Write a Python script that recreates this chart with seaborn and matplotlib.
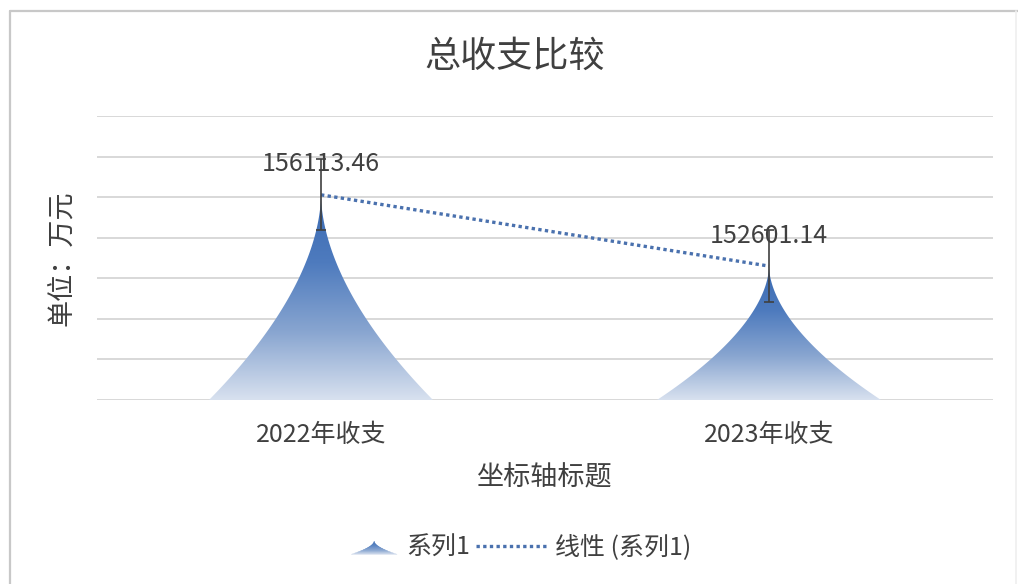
import numpy as np
import matplotlib
matplotlib.use("Agg")
import matplotlib.pyplot as plt
import seaborn as sns
from matplotlib.colors import LinearSegmentedColormap
from matplotlib.patches import Polygon, Patch
from matplotlib.lines import Line2D
from matplotlib.legend_handler import HandlerBase

# ---- data ----
categories = ["2022年收支", "2023年收支"]
values = [156113.46, 152601.14]
value_labels = ["156113.46", "152601.14"]
y_min, y_max, y_step = 146000, 160000, 2000
title = "总收支比较"
x_title = "坐标轴标题"
y_title = "单位：万元"
series_name = "系列1"
trend_name = "线性 (系列1)"

sns.set_theme(style="white")
plt.rcParams["font.family"] = ["Noto Sans CJK SC", "DejaVu Sans"]

TEXT = "#404040"
GRID = "#D6D6D6"
TREND = "#4A71AE"
# gradient from the base (light) to the tip (dark)
spike_cmap = LinearSegmentedColormap.from_list(
    "spike", ["#D8E1EF", "#88A5D0", "#4E7BBE", "#3A6AB2"])
CURVE = 1.8  # concavity of the spike sides


def spike_outline(c, hw, base, top, n=80):
    t = np.linspace(0, 1, n)
    ys = base + t * (top - base)
    off = hw * (1 - t) ** CURVE
    left = np.column_stack([c - off, ys])
    right = np.column_stack([c + off, ys])[::-1]
    return np.concatenate([left, right])


W, H = 1018, 584
fig = plt.figure(figsize=(W / 100, H / 100), dpi=100)
ax = fig.add_axes([97 / W, 1 - 400 / H, (993 - 97) / W, (400 - 116) / H])

sns.barplot(x=categories, y=values, width=0.5, errorbar=None,
            color="#4472C4", ax=ax)
ax.set_ylim(y_min, y_max)
ax.set_yticks(np.arange(y_min, y_max + 1, y_step))
xlim = ax.get_xlim()

# replace each bar by a gradient-filled spike of the same position/width/height
grad = np.linspace(0, 1, 256).reshape(-1, 1)
centers = []
for bar, v in zip(list(ax.patches), values):
    bar.set_visible(False)
    c = bar.get_x() + bar.get_width() / 2
    hw = bar.get_width() / 2
    centers.append(c)
    poly = Polygon(spike_outline(c, hw, y_min, v), closed=True,
                   facecolor="none", edgecolor="none")
    ax.add_patch(poly)
    im = ax.imshow(grad, cmap=spike_cmap, origin="lower",
                   extent=[c - hw, c + hw, y_min, v], aspect="auto",
                   interpolation="bilinear", zorder=2)
    im.set_clip_path(poly)

ax.set_xlim(xlim)
ax.set_ylim(y_min, y_max)

# standard-error bars
sem = np.std(values, ddof=1) / np.sqrt(len(values))
ax.errorbar(centers, values, yerr=sem, fmt="none", ecolor="#404040",
            elinewidth=1.2, capsize=3.5, capthick=1.2, zorder=5)

# linear trend line
coef = np.polyfit(centers, values, 1)
xs = np.array(centers)
trend_line, = ax.plot(xs, np.polyval(coef, xs), color=TREND, lw=2.4,
                      linestyle=(0, (1, 1.0)), zorder=3)

# value labels
for c, v, lab in zip(centers, values, value_labels):
    ax.annotate(lab, (c, v), xytext=(0, 22), textcoords="offset points",
                ha="center", va="center", fontsize=18, color=TEXT, zorder=4)

for s in ax.spines.values():
    s.set_visible(False)
ax.grid(axis="y", color=GRID, lw=1.3)
ax.grid(axis="x", visible=False)
ax.set_axisbelow(True)
ax.tick_params(axis="x", length=0, pad=16, labelsize=18, labelcolor=TEXT)
ax.tick_params(axis="y", length=0, labelleft=False)

ax.set_xlabel(x_title, fontsize=19.5, color=TEXT)
ax.xaxis.set_label_coords(0.5, -0.226)
ax.set_ylabel(y_title, fontsize=19.5, color=TEXT)
ax.yaxis.set_label_coords(-0.025, 0.5)

fig.text(515 / W, 1 - 57 / H, title, ha="center", va="center",
         fontsize=26, color=TEXT)


class SpikeHandler(HandlerBase):
    def create_artists(self, legend, orig_handle, xdescent, ydescent,
                       width, height, fontsize, trans):
        sw, sh = 33.0, 9.5
        c = -xdescent + width - sw / 2
        base = -ydescent + 0.5
        n = 12
        arts = []
        for i in range(n):
            t0, t1 = i / n, (i + 1) / n
            y0, y1 = base + t0 * sh, base + t1 * sh
            o0 = sw / 2 * (1 - t0) ** CURVE
            o1 = sw / 2 * (1 - t1) ** CURVE
            col = spike_cmap((t0 + t1) / 2)
            p = Polygon([[c - o0, y0], [c - o1, y1], [c + o1, y1], [c + o0, y0]],
                        closed=True, facecolor=col, edgecolor=col, lw=0.3,
                        transform=trans)
            arts.append(p)
        return arts


spike_handle = Patch()
fig.legend(handles=[spike_handle, trend_line], labels=[series_name, trend_name],
           handler_map={spike_handle: SpikeHandler()},
           loc="center", bbox_to_anchor=(509 / W, 1 - 548 / H), ncol=2,
           frameon=False, fontsize=18, handlelength=2.8, handletextpad=0.35,
           columnspacing=0.25, labelcolor=TEXT)

# chart-area border
fig.add_artist(Line2D([9.5 / W, 9.5 / W], [0, 1 - 11 / H],
                      transform=fig.transFigure, color="#C8C8C8", lw=1.6))
fig.add_artist(Line2D([9.5 / W, 1], [1 - 11 / H, 1 - 11 / H],
                      transform=fig.transFigure, color="#C8C8C8", lw=1.6))
fig.add_artist(Line2D([1015.5 / W, 1015.5 / W], [0, 1 - 11 / H],
                      transform=fig.transFigure, color="#EFEFEF", lw=1.2))

fig.savefig("out.png", dpi=100)
